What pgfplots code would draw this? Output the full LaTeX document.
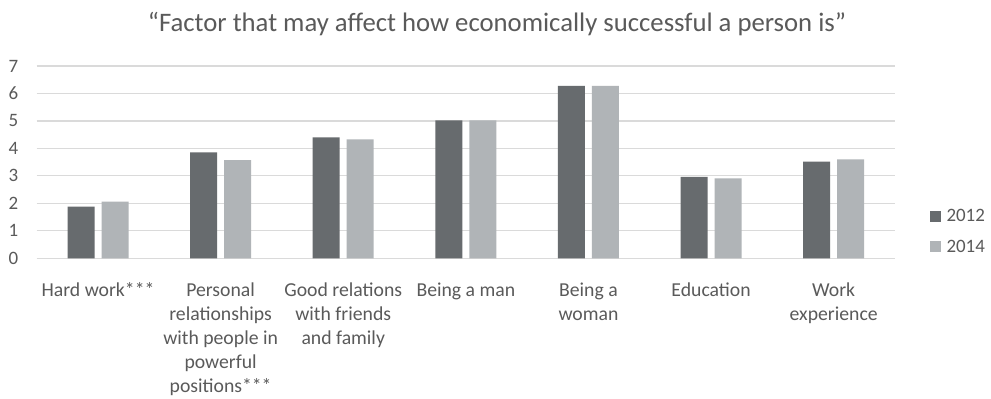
\documentclass[border=0pt]{standalone}
\usepackage{pgfplots}
\pgfplotsset{compat=1.18}
\usepackage{fontspec}
\setmainfont{Carlito}
\definecolor{darkbar}{HTML}{676B6E}
\definecolor{lightbar}{HTML}{B0B4B7}
\definecolor{gridc}{HTML}{DADADA}
\definecolor{txt}{HTML}{5A5A5A}
\begin{document}
\begin{tikzpicture}[x=1bp,y=1bp]
\path[fill=white] (0,0) rectangle (991,396);
\node[font=\fontsize{26.8}{30}\selectfont, text=txt, anchor=center] at (497,372) {“Factor that may affect how economically successful a person is”};
\begin{axis}[
  at={(36.7bp,137.7bp)}, anchor=south west,
  scale only axis,
  width=858.3bp, height=192.3bp,
  ybar=7bp, bar width=27bp,
  xmin=-0.5, xmax=6.5, ymin=0, ymax=7,
  xtick=data,
  xticklabels={Hard work***,
    {Personal\\relationships\\with people in\\powerful\\positions***},
    {Good relations\\with friends\\and family},
    Being a man,
    {Being a\\woman},
    Education,
    {Work\\experience}},
  ytick={0,1,...,7},
  ymajorgrids, grid style={gridc, line width=1.2bp},
  axis line style={draw=none},
  major tick length=0pt,
  tick style={draw=none},
  /pgf/number format/assume math mode=true,
  ticklabel style={font=\fontsize{19}{24}\selectfont, text=txt},
  xticklabel style={align=center, anchor=north, yshift=-21bp, font=\fontsize{19.8}{24}\selectfont},
  yticklabel style={anchor=east, xshift=-15bp},
  legend style={at={(1.04,0.139)}, anchor=west, draw=none, fill=none,
    inner sep=0pt, font=\fontsize{19}{24}\selectfont, text=txt,
    row sep=13bp, legend cell align=left},
  legend image code/.code={\fill[#1] (0bp,-5.5bp) rectangle (11bp,5.5bp); \path (15bp,0bp);},
]
\addplot[fill=darkbar, draw=none] coordinates {(0,1.88) (1,3.86) (2,4.40) (3,5.02) (4,6.28) (5,2.96) (6,3.52)};
\addplot[fill=lightbar, draw=none] coordinates {(0,2.06) (1,3.57) (2,4.33) (3,5.02) (4,6.28) (5,2.91) (6,3.60)};
\legend{2012,2014}
\end{axis}
\end{tikzpicture}
\end{document}
